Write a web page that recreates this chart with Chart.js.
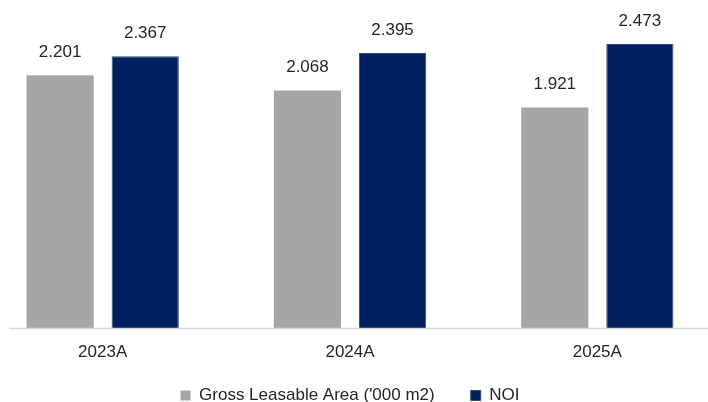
<!DOCTYPE html>
<html>
<head>
<meta charset="utf-8">
<script src="https://cdn.jsdelivr.net/npm/chart.js@4.4.1/dist/chart.umd.min.js"></script>
<style>
  html, body { margin: 0; padding: 0; background: #fff; overflow: hidden; }
  body { width: 708px; height: 402px; position: relative; }
  #wrap { position: absolute; left: -21px; top: 0; width: 742px; height: 414px; }
</style>
</head>
<body>
<div id="wrap"><canvas id="chart"></canvas></div>
<script>
const categories = ["2023A", "2024A", "2025A"];
const seriesNames = ["Gross Leasable Area ('000 m2)", "NOI"];
const glaValues = [2.201, 2.068, 1.921];
const noiValues = [2.367, 2.395, 2.473];

const FONT = "'Liberation Sans', Arial, sans-serif";
const TEXT = "#262626";

// numbers above each bar
const valueLabels = {
  id: "valueLabels",
  afterDatasetsDraw(chart) {
    const { ctx } = chart;
    ctx.save();
    ctx.font = "17px " + FONT;
    ctx.fillStyle = TEXT;
    ctx.textAlign = "center";
    ctx.textBaseline = "middle";
    chart.data.datasets.forEach((ds, i) => {
      chart.getDatasetMeta(i).data.forEach((bar, j) => {
        ctx.fillText(ds.data[j].toFixed(3), bar.x, bar.y - 23);
      });
    });
    ctx.restore();
  },
};

// base line + category names (the scale would clip them in its short box)
const axisLine = {
  id: "axisLine",
  afterDraw(chart) {
    const { ctx, chartArea } = chart;
    const xScale = chart.scales.x;
    ctx.save();
    ctx.strokeStyle = "#D9D9D9";
    ctx.lineWidth = 1.5;
    ctx.beginPath();
    ctx.moveTo(30, chartArea.bottom + 0.5);
    ctx.lineTo(chart.width, chartArea.bottom + 0.5);
    ctx.stroke();

    ctx.font = "17px " + FONT;
    ctx.fillStyle = TEXT;
    ctx.textAlign = "center";
    ctx.textBaseline = "middle";
    chart.data.labels.forEach((label, i) => {
      ctx.fillText(label, xScale.getPixelForTick(i), chartArea.bottom + 24);
    });
    ctx.restore();
  },
};

new Chart(document.getElementById("chart"), {
  type: "bar",
  data: {
    labels: categories,
    datasets: [
      {
        label: seriesNames[0],
        data: glaValues,
        backgroundColor: "#A6A6A6",
        categoryPercentage: 0.688,
        barPercentage: 0.79,
      },
      {
        label: seriesNames[1],
        data: noiValues,
        backgroundColor: "#002060",
        borderColor: "#2F4A80",
        borderWidth: 1,
        categoryPercentage: 0.688,
        barPercentage: 0.79,
      },
    ],
  },
  options: {
    responsive: true,
    maintainAspectRatio: false,
    animation: false,
    layout: { padding: { top: 41, left: 0, right: 0, bottom: 0 } },
    plugins: {
      tooltip: { enabled: false },
      legend: {
        position: "bottom",
        labels: {
          boxWidth: 10,
          boxHeight: 10,
          padding: 36,
          color: TEXT,
          font: { family: FONT, size: 17 },
        },
      },
    },
    scales: {
      x: {
        grid: { display: false, drawTicks: false },
        border: { display: false },
        ticks: { display: false },
        afterFit(scale) { scale.height = 23; },
      },
      y: {
        display: false,
        min: 0,
        max: 2.5,
      },
    },
  },
  plugins: [valueLabels, axisLine],
});
</script>
</body>
</html>
